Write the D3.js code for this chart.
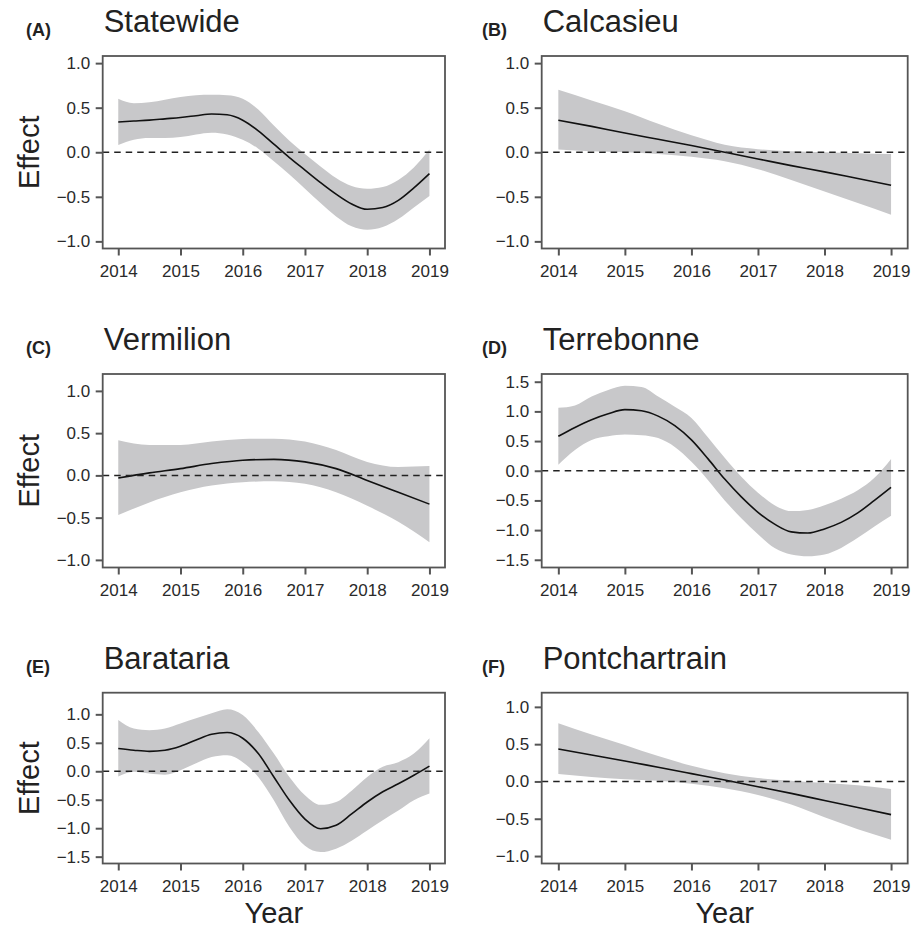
<!DOCTYPE html>
<html>
<head>
<meta charset="utf-8">
<script src="https://cdn.jsdelivr.net/npm/d3@7"></script>
<style>
  body { margin: 0; background: #fff; }
  svg { display: block; font-family: "Liberation Sans", Arial, Helvetica, sans-serif; }
</style>
</head>
<body>
<svg id="chart" width="911" height="930"></svg>
<script>
// sample years (quarterly for the wiggly fits, half-yearly for the straight ones)
const yearsQ = [2014, 2014.25, 2014.5, 2014.75, 2015, 2015.25, 2015.5, 2015.75, 2016, 2016.25,
  2016.5, 2016.75, 2017, 2017.25, 2017.5, 2017.75, 2018, 2018.25, 2018.5, 2018.75, 2019];
const yearsH = [2014, 2014.5, 2015, 2015.5, 2016, 2016.5, 2017, 2017.5, 2018, 2018.5, 2019];
const xTicks = [2014, 2015, 2016, 2017, 2018, 2019];

// (A) Statewide
const statewideFit = [0.34, 0.35, 0.36, 0.375, 0.39, 0.41, 0.43, 0.42, 0.36, 0.24, 0.09, -0.06, -0.20,
  -0.34, -0.47, -0.58, -0.64, -0.62, -0.54, -0.40, -0.24];
const statewideHi = [0.60, 0.55, 0.56, 0.59, 0.62, 0.64, 0.645, 0.64, 0.60, 0.48, 0.30, 0.13, -0.02,
  -0.16, -0.29, -0.38, -0.41, -0.39, -0.31, -0.17, 0.03];
const statewideLo = [0.08, 0.14, 0.16, 0.16, 0.17, 0.20, 0.22, 0.20, 0.14, 0.04, -0.10, -0.25, -0.41,
  -0.57, -0.72, -0.83, -0.87, -0.84, -0.75, -0.62, -0.49];

// (B) Calcasieu
const calcasieuFit = [0.36, 0.29, 0.215, 0.145, 0.075, 0.0, -0.075, -0.15, -0.22, -0.295, -0.37];
const calcasieuHi = [0.70, 0.58, 0.46, 0.32, 0.19, 0.085, 0.035, 0.01, 0.0, -0.01, -0.02];
const calcasieuLo = [0.03, 0.01, 0.0, -0.02, -0.05, -0.10, -0.19, -0.31, -0.44, -0.57, -0.70];

// (C) Vermilion
const vermilionFit = [-0.03, 0.03, 0.08, 0.14, 0.18, 0.19, 0.16, 0.08, -0.06, -0.20, -0.34];
const vermilionHi = [0.415, 0.36, 0.36, 0.40, 0.43, 0.435, 0.40, 0.30, 0.16, 0.10, 0.11];
const vermilionLo = [-0.47, -0.32, -0.20, -0.12, -0.08, -0.07, -0.10, -0.20, -0.36, -0.55, -0.79];

// (D) Terrebonne
const terrebonneFit = [0.58, 0.73, 0.86, 0.96, 1.03, 1.01, 0.92, 0.76, 0.52, 0.20, -0.14, -0.44, -0.70,
  -0.90, -1.03, -1.05, -0.98, -0.87, -0.71, -0.50, -0.28];
const terrebonneHi = [1.06, 1.10, 1.25, 1.36, 1.43, 1.41, 1.25, 1.08, 0.89, 0.56, 0.22, -0.10, -0.37,
  -0.58, -0.68, -0.66, -0.58, -0.47, -0.33, -0.12, 0.20];
const terrebonneLo = [0.10, 0.35, 0.52, 0.58, 0.61, 0.60, 0.55, 0.40, 0.15, -0.16, -0.50, -0.80, -1.07,
  -1.30, -1.41, -1.44, -1.41, -1.30, -1.13, -0.94, -0.76];

// (E) Barataria
const baratariaFit = [0.40, 0.37, 0.35, 0.37, 0.44, 0.55, 0.65, 0.68, 0.58, 0.31, -0.10, -0.51, -0.84,
  -1.01, -0.95, -0.75, -0.54, -0.36, -0.22, -0.07, 0.09];
const baratariaHi = [0.90, 0.75, 0.72, 0.75, 0.84, 0.93, 1.02, 1.09, 0.99, 0.69, 0.31, -0.10, -0.42,
  -0.59, -0.54, -0.34, -0.10, 0.08, 0.16, 0.31, 0.58];
const baratariaLo = [-0.09, -0.01, -0.04, -0.06, 0.02, 0.14, 0.25, 0.28, 0.16, -0.10, -0.51, -0.98, -1.31,
  -1.42, -1.36, -1.22, -1.04, -0.86, -0.69, -0.51, -0.39];

// (F) Pontchartrain
const pontchartrainFit = [0.435, 0.355, 0.275, 0.19, 0.105, 0.02, -0.07, -0.16, -0.255, -0.35, -0.445];
const pontchartrainHi = [0.78, 0.63, 0.49, 0.34, 0.21, 0.11, 0.045, 0.01, -0.02, -0.05, -0.10];
const pontchartrainLo = [0.10, 0.06, 0.03, 0.01, -0.03, -0.09, -0.18, -0.31, -0.48, -0.64, -0.78];

const yTicksOne = [-1, -0.5, 0, 0.5, 1];
const yTicksWide = [-1.5, -1, -0.5, 0, 0.5, 1, 1.5];
const yTicksBar = [-1.5, -1, -0.5, 0, 0.5, 1];

const tags = ["(A)", "(B)", "(C)", "(D)", "(E)", "(F)"];
const titles = ["Statewide", "Calcasieu", "Vermilion", "Terrebonne", "Barataria", "Pontchartrain"];

// panel layout
const cols = [
  { x0: 102.7, x1: 445, tagX: 26 },
  { x0: 541.7, x1: 907.7, tagX: 482 }
];
const rows = [
  { y0: 56, y1: 248.5 },
  { y0: 374, y1: 567.5 },
  { y0: 692.7, y1: 863.5 }
];

const panels = [
  { years: yearsQ, fit: statewideFit, lo: statewideLo, hi: statewideHi, dom: [-1.08, 1.08], ticks: yTicksOne },
  { years: yearsH, fit: calcasieuFit, lo: calcasieuLo, hi: calcasieuHi, dom: [-1.08, 1.08], ticks: yTicksOne },
  { years: yearsH, fit: vermilionFit, lo: vermilionLo, hi: vermilionHi, dom: [-1.09, 1.2], ticks: yTicksOne },
  { years: yearsQ, fit: terrebonneFit, lo: terrebonneLo, hi: terrebonneHi, dom: [-1.63, 1.63], ticks: yTicksWide },
  { years: yearsQ, fit: baratariaFit, lo: baratariaLo, hi: baratariaHi, dom: [-1.62, 1.38], ticks: yTicksBar },
  { years: yearsH, fit: pontchartrainFit, lo: pontchartrainLo, hi: pontchartrainHi, dom: [-1.1, 1.19], ticks: yTicksOne }
];

const svg = d3.select("#chart");
const fmt = (d) => d3.format(".1f")(d).replace("-", "\u2013");

panels.forEach((p, i) => {
  const col = cols[i % 2];
  const row = rows[Math.floor(i / 2)];
  const w = col.x1 - col.x0;
  const h = row.y1 - row.y0;

  const x = d3.scaleLinear().domain([2013.75, 2019.25]).range([0, w]);
  const y = d3.scaleLinear().domain(p.dom).range([h, 0]);

  const g = svg.append("g").attr("transform", `translate(${col.x0},${row.y0})`);

  const pts = p.years.map((yr, j) => ({ yr, fit: p.fit[j], lo: p.lo[j], hi: p.hi[j] }));

  // confidence band
  g.append("path")
    .datum(pts)
    .attr("fill", "#c8c8ca")
    .attr("d", d3.area()
      .x((d) => x(d.yr))
      .y0((d) => y(d.lo))
      .y1((d) => y(d.hi))
      .curve(d3.curveMonotoneX));

  // fitted effect
  g.append("path")
    .datum(pts)
    .attr("fill", "none")
    .attr("stroke", "#111")
    .attr("stroke-width", 1.6)
    .attr("d", d3.line()
      .x((d) => x(d.yr))
      .y((d) => y(d.fit))
      .curve(d3.curveMonotoneX));

  // zero line
  g.append("line")
    .attr("x1", 0).attr("x2", w)
    .attr("y1", y(0)).attr("y2", y(0))
    .attr("stroke", "#222")
    .attr("stroke-width", 1.5)
    .attr("stroke-dasharray", "6.5,5");

  // axes
  const yAxis = g.append("g")
    .call(d3.axisLeft(y).tickValues(p.ticks).tickSize(7).tickPadding(5.5).tickFormat(fmt));
  const xAxis = g.append("g")
    .attr("transform", `translate(0,${h})`)
    .call(d3.axisBottom(x).tickValues(xTicks).tickSize(7).tickPadding(9).tickFormat(d3.format("d")));
  [yAxis, xAxis].forEach((a) => {
    a.select(".domain").remove();
    a.selectAll("line").attr("stroke", "#555").attr("stroke-width", 2);
    a.selectAll("text").attr("fill", "#2a2a2a").style("font-size", "17px")
      .style("font-family", '"Liberation Sans", Arial, sans-serif');
  });

  // panel border
  g.append("rect")
    .attr("width", w).attr("height", h)
    .attr("fill", "none")
    .attr("stroke", "#555")
    .attr("stroke-width", 1.8);

  // title and tag
  svg.append("text")
    .attr("x", col.x0 + 1)
    .attr("y", row.y0 - 24)
    .attr("fill", "#222")
    .style("font-size", "31px")
    .text(titles[i]);
  svg.append("text")
    .attr("x", col.tagX)
    .attr("y", row.y0 - 20)
    .attr("fill", "#222")
    .style("font-size", "18px")
    .style("font-weight", "bold")
    .text(tags[i]);

  if (i % 2 === 0) {
    svg.append("text")
      .attr("transform", `translate(39,${row.y0 + h / 2}) rotate(-90)`)
      .attr("text-anchor", "middle")
      .attr("fill", "#222")
      .style("font-size", "29px")
      .text("Effect");
  }
  if (i >= 4) {
    svg.append("text")
      .attr("x", col.x0 + w / 2)
      .attr("y", 923)
      .attr("text-anchor", "middle")
      .attr("fill", "#222")
      .style("font-size", "29px")
      .text("Year");
  }
});
</script>
</body>
</html>
